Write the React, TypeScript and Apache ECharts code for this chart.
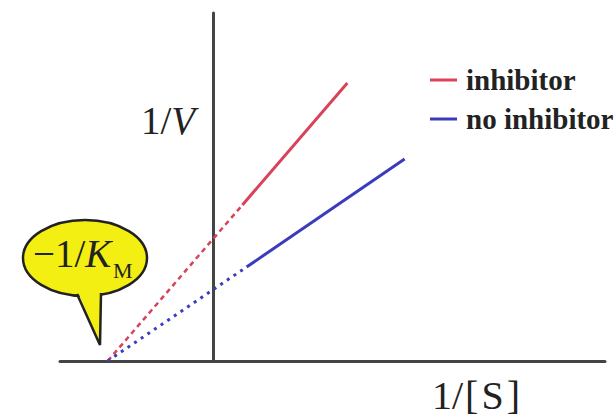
import React, { useEffect, useRef } from "react";
import * as echarts from "echarts";

// Lineweaver–Burk plot (1/V vs 1/[S]); x-intercept at -1/K_M
const inhibitorDashed: [number, number][] = [[-1, 0], [0.27, 1.56]];
const inhibitorSolid: [number, number][] = [[0.27, 1.56], [1.26, 2.78]];
const noInhibitorDashed: [number, number][] = [[-1, 0], [0.31, 0.94]];
const noInhibitorSolid: [number, number][] = [[0.31, 0.94], [1.8, 2.02]];
const legendNames = ["inhibitor", "no inhibitor"];

const RED = "#d8425a";
const BLUE = "#3b3bbd";
const SERIF = "'Liberation Serif', 'DejaVu Serif', serif";

export default function App() {
  const ref = useRef<HTMLDivElement>(null);
  useEffect(() => {
    if (!ref.current) return;
    const chart = echarts.init(ref.current, null, { renderer: "svg" });
    chart.setOption({
      animation: false,
      backgroundColor: "#ffffff",
      grid: { left: 60, right: 11, top: 13, bottom: 59 },
      xAxis: {
        type: "value",
        min: -1.45,
        max: 3.69,
        axisLine: { onZero: false, lineStyle: { color: "#444", width: 3 } },
        axisTick: { show: false },
        axisLabel: { show: false },
        splitLine: { show: false },
      },
      yAxis: {
        type: "value",
        min: 0,
        max: 3.48,
        axisLine: { show: true, onZero: true, lineStyle: { color: "#444", width: 3 } },
        axisTick: { show: false },
        axisLabel: { show: false },
        splitLine: { show: false },
      },
      legend: {
        orient: "vertical",
        left: 425,
        top: 60,
        itemWidth: 27,
        itemHeight: 3,
        itemGap: 9,
        selectedMode: false,
        data: legendNames.map((n) => ({ name: n, icon: "rect" })),
        textStyle: {
          fontFamily: SERIF,
          fontWeight: "bold",
          fontSize: 29,
          lineHeight: 30,
          color: "#222",
          padding: [0, 0, 0, 4],
        },
      },
      series: [
        {
          name: "inhibitor (extrapolated)",
          type: "line",
          data: inhibitorDashed,
          symbol: "none",
          lineStyle: { color: RED, width: 2.5, type: [5, 4] },
          color: RED,
        },
        {
          name: legendNames[0],
          type: "line",
          data: inhibitorSolid,
          symbol: "none",
          lineStyle: { color: RED, width: 3 },
          color: RED,
        },
        {
          name: "no inhibitor (extrapolated)",
          type: "line",
          data: noInhibitorDashed,
          symbol: "none",
          lineStyle: { color: BLUE, width: 3, type: [3, 5] },
          color: BLUE,
        },
        {
          name: legendNames[1],
          type: "line",
          data: noInhibitorSolid,
          symbol: "none",
          lineStyle: { color: BLUE, width: 3 },
          color: BLUE,
        },
      ],
      graphic: [
        {
          type: "text",
          x: 141,
          y: 120,
          style: {
            text: "{n|1/}{i|V}",
            verticalAlign: "middle",
            rich: {
              n: { fontFamily: SERIF, fontSize: 39, fill: "#222" },
              i: { fontFamily: SERIF, fontSize: 39, fontStyle: "italic", fill: "#222" },
            },
          },
        },
        {
          type: "text",
          x: 432,
          y: 395,
          style: {
            text: "{a|1/}{b|[}{c|S}{b|]}",
            verticalAlign: "middle",
            rich: {
              a: { fontFamily: SERIF, fontSize: 40, fill: "#222" },
              b: { fontFamily: SERIF, fontSize: 40, fill: "#222", padding: [0, 2, 0, 2] },
              c: { fontFamily: SERIF, fontSize: 40, fill: "#222", padding: [0, 1, 0, 1] },
            },
          },
        },
        {
          type: "ellipse",
          shape: { cx: 85, cy: 258, rx: 62, ry: 38 },
          style: { fill: "#f4ef12", stroke: "#222", lineWidth: 2.5 },
          z: 10,
        },
        {
          type: "polygon",
          shape: { points: [[75, 285], [100, 345], [102, 285]] },
          style: { fill: "#f4ef12" },
          z: 11,
        },
        {
          type: "polyline",
          shape: { points: [[77, 294], [100, 345], [101, 293]] },
          style: { stroke: "#222", lineWidth: 2.5, fill: null },
          z: 12,
        },
        {
          type: "text",
          x: 33,
          y: 253,
          z: 13,
          style: {
            text: "{n|\u22121/}{i|K}",
            verticalAlign: "middle",
            rich: {
              n: { fontFamily: SERIF, fontSize: 39, fill: "#222" },
              i: { fontFamily: SERIF, fontSize: 39, fontStyle: "italic", fill: "#222" },
            },
          },
        },
        {
          type: "text",
          x: 113,
          y: 270,
          z: 13,
          style: {
            text: "M",
            verticalAlign: "middle",
            fontFamily: SERIF,
            fontSize: 22,
            fill: "#222",
          },
        },
      ],
    });
    return () => chart.dispose();
  }, []);
  return (
    <div
      ref={ref}
      style={{ position: "absolute", left: 0, top: 0, width: 616, height: 420 }}
    />
  );
}
